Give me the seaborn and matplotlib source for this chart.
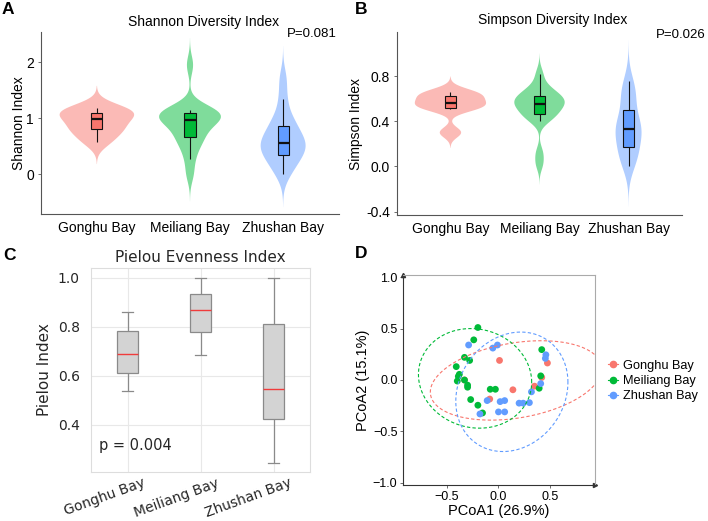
import numpy as np
import pandas as pd
import matplotlib
matplotlib.use("Agg")
import matplotlib.pyplot as plt
import matplotlib.transforms as mtransforms
from matplotlib.lines import Line2D
import seaborn as sns

# ---- data ----
bays = ["Gonghu Bay", "Meiliang Bay", "Zhushan Bay"]

shannon_gonghu = [0.58, 0.76, 0.84, 0.98, 1.07, 1.13, 1.18]
shannon_meiliang = [0.00, 0.27, 0.45, 0.58, 0.64, 0.70, 0.80, 0.88, 0.93, 0.96,
                    1.00, 1.03, 1.06, 1.08, 1.12, 1.13, 1.14, 1.15, 1.95]
shannon_zhushan = [0.00, 0.12, 0.25, 0.33, 0.36, 0.45, 0.52, 0.55, 0.57, 0.65,
                   0.74, 0.84, 0.92, 1.05, 1.34, 1.70]

simpson_gonghu = [0.30, 0.51, 0.53, 0.56, 0.60, 0.64, 0.66]
simpson_meiliang = [0.02, 0.12, 0.40, 0.43, 0.45, 0.47, 0.50, 0.52, 0.54, 0.55,
                    0.57, 0.58, 0.60, 0.61, 0.63, 0.65, 0.68, 0.72, 0.82]
simpson_zhushan = [0.00, 0.05, 0.10, 0.15, 0.18, 0.26, 0.29, 0.32, 0.34, 0.37,
                   0.41, 0.47, 0.59, 0.63, 0.68, 0.76]

pielou_gonghu = [0.54, 0.60, 0.62, 0.69, 0.76, 0.81, 0.86]
pielou_meiliang = [0.685, 0.71, 0.74, 0.76, 0.77, 0.79, 0.81, 0.84, 0.86, 0.87,
                   0.88, 0.90, 0.91, 0.93, 0.94, 0.95, 0.97, 0.99, 1.00]
pielou_zhushan = [0.245, 0.30, 0.36, 0.40, 0.43, 0.47, 0.50, 0.53, 0.56, 0.62,
                  0.70, 0.79, 0.87, 0.92, 0.96, 1.00]

# PCoA sample scores
pc1_gonghu = [0.01, 0.14, -0.085, -0.33, 0.475, 0.42, 0.35]
pc2_gonghu = [0.19, -0.095, -0.185, 0.00, 0.165, 0.025, -0.06]
pc1_meiliang = [-0.20, -0.24, -0.33, -0.28, -0.41, -0.38, -0.39, -0.40, -0.33, -0.30,
                -0.30, -0.08, -0.03, -0.27, -0.20, -0.155, 0.42, 0.41, 0.395]
pc2_meiliang = [0.51, 0.39, 0.22, 0.19, 0.13, 0.055, 0.035, -0.01, 0.00, -0.05,
                -0.07, -0.09, -0.09, -0.19, -0.245, -0.32, 0.295, 0.04, -0.08]
pc1_zhushan = [-0.29, -0.055, -0.01, -0.11, 0.016, 0.06, -0.18, 0.00, 0.06, 0.20,
               0.24, 0.30, 0.32, 0.41, 0.46, 0.455]
pc2_zhushan = [0.34, 0.31, 0.34, -0.20, -0.21, -0.20, -0.33, -0.31, -0.31, -0.225,
               -0.225, -0.22, -0.115, -0.035, 0.245, 0.21]

p_shannon = "P=0.081"
p_simpson = "P=0.026"
p_pielou = "p = 0.004"

colors = ["#F8766D", "#00BA38", "#619CFF"]
light = ["#FBBAB6", "#7FDC9B", "#B0CDFF"]

plt.rcParams["font.family"] = ["Liberation Sans", "DejaVu Sans"]

W, H = 708, 521
fig = plt.figure(figsize=(W / 100, H / 100), dpi=100)


def px_axes(l, t, r, b):
    return fig.add_axes([l / W, 1 - b / H, (r - l) / W, (b - t) / H])


def long_df(groups):
    return pd.DataFrame({"bay": np.repeat(bays, [len(g) for g in groups]),
                         "value": np.concatenate(groups)})


# R's bw.nrd0, as a factor for gaussian_kde (like ggplot's geom_violin)
def nrd0(kde):
    d = kde.dataset.ravel()
    sd = d.std(ddof=1)
    q75, q25 = np.percentile(d, [75, 25])
    h = 0.9 * min(sd, (q75 - q25) / 1.34) * len(d) ** -0.2
    return h / sd


def violin_panel(ax, groups, title, ptext, ylabel, title_dy, p_xy):
    df = long_df(groups)
    # one colour first so "area" scaling is shared by all three violins
    sns.violinplot(data=df, x="bay", y="value", order=bays, color=light[0],
                   inner=None, cut=3, bw_method=nrd0, density_norm="area",
                   width=0.8, linewidth=0, saturation=1, ax=ax)
    for coll, c in zip(ax.collections, light):
        coll.set_facecolor(c)
        coll.set_edgecolor("none")
    sns.boxplot(data=df, x="bay", y="value", hue="bay", order=bays, hue_order=bays,
                palette=colors, width=0.12, showfliers=False, showcaps=False,
                linecolor="#111111", linewidth=0.8, saturation=1,
                medianprops={"linewidth": 1.6}, legend=False, ax=ax)
    ax.set_xlim(-0.6, 2.6)
    ax.set_xlabel("")
    ax.set_ylabel(ylabel, fontsize=10)
    for s in ["top", "right"]:
        ax.spines[s].set_visible(False)
    for s in ["left", "bottom"]:
        ax.spines[s].set_color("#555555")
        ax.spines[s].set_linewidth(0.8)
    ax.tick_params(axis="x", length=0, pad=5, labelsize=10)
    ax.tick_params(axis="y", length=2, width=0.6, color="#555555", pad=3, labelsize=10)
    ax.text(0.545, 1 + title_dy, title, transform=ax.transAxes, ha="center",
            va="center", fontsize=10)
    ax.text(p_xy[0], p_xy[1], ptext, transform=ax.transAxes, ha="right",
            va="center", fontsize=9.5)


# ---- A: Shannon ----
axA = px_axes(41, 32, 339, 214)
violin_panel(axA, [shannon_gonghu, shannon_meiliang, shannon_zhushan],
             "Shannon Diversity Index", p_shannon, "Shannon Index", 10 / 182, (0.993, 0.99))
axA.set_ylim(-0.71, 2.54)
axA.set_yticks([0, 1, 2])
axA.set_yticklabels(["0", "1", "2"])
axA.yaxis.labelpad = 0

# ---- B: Simpson ----
axB = px_axes(397, 32, 682, 215)
violin_panel(axB, [simpson_gonghu, simpson_meiliang, simpson_zhushan],
             "Simpson Diversity Index", p_simpson, "Simpson Index", 12 / 183, (1.084, 0.985))
axB.set_ylim(-0.43, 1.19)
axB.set_yticks([-0.4, 0.0, 0.4, 0.8])
axB.set_yticklabels(["-0.4", "0.0", "0.4", "0.8"])
axB.yaxis.labelpad = 2

# ---- C: Pielou ----
axC = px_axes(91, 268, 310, 472)
dfp = long_df([pielou_gonghu, pielou_meiliang, pielou_zhushan])
sns.boxplot(data=dfp, x="bay", y="value", order=bays, color="#D3D3D3", width=0.3,
            linecolor="#8a8a8a", linewidth=0.9, showfliers=False, saturation=1,
            medianprops={"color": "#F03C3C", "linewidth": 1.0}, ax=axC)
axC.set_xlim(-0.5, 2.5)
axC.set_ylim(0.208, 1.04)
axC.set_yticks([0.4, 0.6, 0.8, 1.0])
axC.grid(True, color="#E8E8E8", linewidth=0.8)
axC.set_axisbelow(True)
for s in axC.spines.values():
    s.set_color("#DDDDDD")
    s.set_linewidth(0.8)
axC.tick_params(length=0, labelsize=10, labelcolor="#262626")
axC.tick_params(axis="y", pad=8)
axC.tick_params(axis="x", pad=3)
axC.set_xlabel("")
axC.set_ylabel("Pielou Index", fontsize=11, family="DejaVu Sans", color="#262626")
axC.set_title("Pielou Evenness Index", fontsize=11, family="DejaVu Sans",
              color="#262626", pad=4)
shift = mtransforms.ScaledTranslation(20 / 100, 0, fig.dpi_scale_trans)
for lbl in axC.get_xticklabels():
    lbl.set_rotation(20)
    lbl.set_ha("right")
    lbl.set_family("DejaVu Sans")
    lbl.set_transform(lbl.get_transform() + shift)
for lbl in axC.get_yticklabels():
    lbl.set_family("DejaVu Sans")
axC.text(0.037, 0.13, p_pielou, transform=axC.transAxes, fontsize=10.5,
         family="DejaVu Sans", color="#262626", va="center")


# ---- D: PCoA ----
def trob(xy, nu=5, maxit=25, tol=0.01):
    # t-distribution robust covariance, like MASS::cov.trob
    n, p = xy.shape
    loc = xy.mean(axis=0)
    w = np.ones(n)
    for _ in range(maxit):
        w0 = w
        X = xy - loc
        S = (X * (w / w.sum())[:, None]).T @ X
        Q = np.einsum("ij,jk,ik->i", X, np.linalg.inv(S), X)
        w = (nu + p) / (nu + Q)
        loc = (w[:, None] * xy).sum(0) / w.sum()
        if np.all(np.abs(w - w0) < tol):
            break
    return loc, (X * w[:, None]).T @ X / n


def ellipse_xy(x, y, level=0.95, seg=120):
    xy = np.column_stack([x, y])
    center, shape = trob(xy)
    d = len(x) - 1
    fq = (d / 2) * ((1 - level) ** (-2 / d) - 1)
    radius = np.sqrt(2 * fq)
    ang = np.linspace(0, 2 * np.pi, seg + 1)
    circ = np.column_stack([np.cos(ang), np.sin(ang)])
    pts = center + radius * circ @ np.linalg.cholesky(shape).T
    return pts[:, 0], pts[:, 1]


axD = px_axes(403, 275, 595, 485)
dfd = pd.DataFrame({
    "PC1": np.concatenate([pc1_gonghu, pc1_meiliang, pc1_zhushan]),
    "PC2": np.concatenate([pc2_gonghu, pc2_meiliang, pc2_zhushan]),
    "bay": np.repeat(bays, [len(pc1_gonghu), len(pc1_meiliang), len(pc1_zhushan)]),
})
for bay, col in zip(bays, colors):
    sub = dfd[dfd.bay == bay]
    ex, ey = ellipse_xy(sub.PC1.values, sub.PC2.values)
    axD.plot(ex, ey, color=col, lw=0.8, ls=(0, (3, 2)))
sns.scatterplot(data=dfd, x="PC1", y="PC2", hue="bay", hue_order=bays, palette=colors,
                s=24, linewidth=0, legend=False, ax=axD)
axD.set_xlim(-0.927, 0.937)
axD.set_ylim(-1.02, 1.02)
axD.set_xticks([-0.5, 0.0, 0.5])
axD.set_yticks([-1.0, -0.5, 0.0, 0.5, 1.0])
axD.set_xticklabels(["\u22120.5", "0.0", "0.5"])
axD.set_yticklabels(["\u22121.0", "\u22120.5", "0.0", "0.5", "1.0"])
axD.tick_params(length=2, width=0.6, color="#555555", labelsize=9, pad=2)
for s in ["left", "bottom"]:
    axD.spines[s].set_color("#333333")
    axD.spines[s].set_linewidth(0.8)
for s in ["top", "right"]:
    axD.spines[s].set_color("#AAAAAA")
    axD.spines[s].set_linewidth(0.8)
axD.plot(0, 1, "^", ms=3, color="#333333", transform=axD.transAxes, clip_on=False)
axD.plot(1, 0, ">", ms=3, color="#333333", transform=axD.transAxes, clip_on=False)
axD.set_xlabel("PCoA1 (26.9%)", fontsize=10.5, labelpad=1)
axD.set_ylabel("PCoA2 (15.1%)", fontsize=10.5, labelpad=2)
handles = [Line2D([0], [0], color=c, marker="o", ms=4.5, lw=0.8, ls="-") for c in colors]
fig.legend(handles, bays, loc="center left", bbox_to_anchor=(608 / W, 1 - 381 / H),
           frameon=False, fontsize=9.2, handlelength=0.8, handletextpad=0.4,
           labelspacing=0.25, borderpad=0, borderaxespad=0)

# panel letters
for letter, x, y in [("A", 2, 9), ("B", 355, 9), ("C", 3, 255), ("D", 355, 254)]:
    fig.text(x / W, 1 - y / H, letter, fontsize=12.5, fontweight="bold", va="center")

fig.savefig("out.png", dpi=100)
